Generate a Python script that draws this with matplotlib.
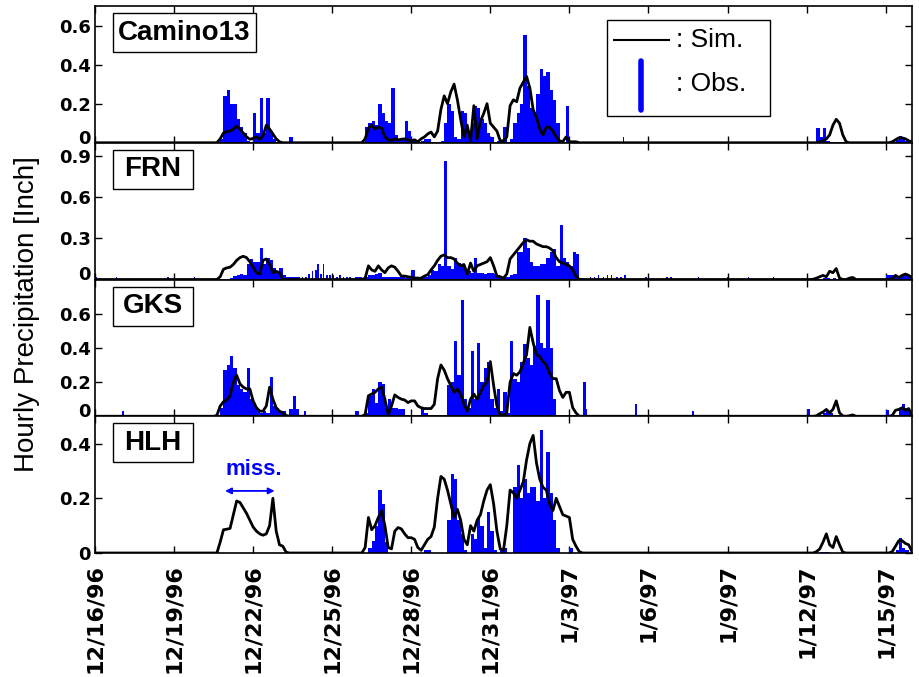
import numpy as np
import matplotlib.pyplot as plt
from matplotlib.patches import Rectangle
from matplotlib.lines import Line2D
from matplotlib.transforms import ScaledTranslation

# stations, top to bottom
stations = ["Camino13", "FRN", "GKS", "HLH"]
y_max = [0.7, 1.0, 0.8, 0.5]
y_ticks = [[0, 0.2, 0.4, 0.6], [0, 0.3, 0.6, 0.9], [0, 0.2, 0.4, 0.6], [0, 0.2, 0.4]]
y_tick_labels = [["0", "0.2", "0.4", "0.6"], ["0", "0.3", "0.6", "0.9"],
                 ["0", "0.2", "0.4", "0.6"], ["0", "0.2", "0.4"]]

# x axis in days since 12/16/96 00:00
date_ticks = [0, 3, 6, 9, 12, 15, 18, 21, 24, 27, 30]
date_labels = ["12/16/96", "12/19/96", "12/22/96", "12/25/96", "12/28/96", "12/31/96",
               "1/3/97", "1/6/97", "1/9/97", "1/12/97", "1/15/97"]

# 3-hourly values (inch), given in four storm windows
step = 0.125
window_start = [4.5, 9.875, 27.0, 29.875]

camino_sim = [
    [0, 0, 0.02, 0.05, 0.057, 0.06, 0.07, 0.085, 0.07, 0.05, 0.03, 0.018, 0.022,
     0.03, 0.018, 0.035, 0.09, 0.07, 0.045, 0.02, 0.005, 0, 0, 0, 0, 0],
    [0, 0, 0, 0.02, 0.075, 0.09, 0.07, 0.08, 0.075, 0.03, 0.015, 0.012, 0.02, 0.015,
     0.018, 0.02, 0.015, 0.01, 0.015, 0.005, 0.02, 0.03, 0.045, 0.055, 0.03, 0.06,
     0.17, 0.24, 0.2, 0.26, 0.3, 0.22, 0.12, 0.03, 0.09, 0.01, 0.19, 0.02, 0.11, 0.15,
     0.2, 0.1, 0.08, 0.06, 0.01, 0.01, 0.03, 0.19, 0.22, 0.21, 0.28, 0.31, 0.34, 0.28,
     0.17, 0.13, 0.07, 0.04, 0.08, 0.08, 0.06, 0.03, 0.01, 0.005, 0.03, 0.005, 0.005,
     0.005, 0, 0],
    [0, 0, 0, 0, 0.005, 0.01, 0.02, 0.04, 0.09, 0.12, 0.1, 0.04, 0.005, 0, 0],
    [0, 0, 0, 0.005, 0.015, 0.025, 0.025, 0.02, 0.01, 0.005],
]
camino_obs = [
    [0, 0, 0.02, 0.24, 0.27, 0.2, 0.2, 0.12, 0.08, 0.05, 0.01, 0, 0.15, 0.05, 0.23,
     0.05, 0.23, 0.06, 0.02, 0, 0, 0, 0, 0.03, 0, 0],
    [0, 0, 0, 0.08, 0.1, 0.11, 0.09, 0.2, 0.15, 0.11, 0.1, 0.28, 0.04, 0.02, 0.02,
     0.11, 0.06, 0.02, 0.01, 0, 0.01, 0.02, 0.02, 0, 0, 0, 0.01, 0.1, 0.2, 0.16,
     0.03, 0.02, 0.16, 0.15, 0.06, 0.1, 0.19, 0.18, 0.12, 0.1, 0.05, 0.03, 0, 0.01,
     0.01, 0.08, 0, 0.02, 0.1, 0.15, 0.2, 0.55, 0.29, 0.18, 0.15, 0.25, 0.38, 0.34,
     0.36, 0.27, 0.22, 0.1, 0, 0, 0.19, 0, 0, 0, 0, 0],
    [0, 0, 0, 0.075, 0.03, 0.075, 0.01, 0, 0, 0, 0, 0, 0, 0, 0],
    [0, 0, 0, 0, 0.015, 0.035, 0.02, 0.01, 0.005, 0],
]
camino_extra_days = [20.06]
camino_extra_obs = [0.03]

frn_sim = [
    [0, 0, 0.02, 0.075, 0.085, 0.09, 0.11, 0.14, 0.16, 0.17, 0.16, 0.13, 0.09, 0.05,
     0.04, 0.14, 0.15, 0.11, 0.05, 0.06, 0.05, 0, 0, 0, 0, 0],
    [0, 0, 0, 0.01, 0.1, 0.07, 0.06, 0.1, 0.07, 0.05, 0.085, 0.1, 0.09, 0.06, 0.025,
     0.025, 0.02, 0.015, 0.012, 0.01, 0.01, 0.025, 0.035, 0.07, 0.1, 0.14, 0.17, 0.18,
     0.16, 0.16, 0.15, 0.12, 0.1, 0.11, 0.04, 0.12, 0.06, 0.1, 0.11, 0.12, 0.13, 0.16,
     0.1, 0.025, 0.02, 0.01, 0.04, 0.15, 0.18, 0.21, 0.24, 0.27, 0.29, 0.28, 0.28,
     0.26, 0.25, 0.24, 0.24, 0.23, 0.21, 0.16, 0.13, 0.12, 0.11, 0.1, 0.07, 0.025, 0, 0],
    [0, 0, 0.002, 0.01, 0.02, 0.03, 0.02, 0.06, 0.05, 0.08, 0.01, 0, 0, 0.01, 0.015],
    [0, 0, 0, 0.005, 0.03, 0.015, 0.03, 0.04, 0.03, 0.01],
]
frn_obs = [
    [0, 0, 0, 0, 0, 0.01, 0.025, 0.03, 0.04, 0.03, 0.11, 0.15, 0.13, 0.13, 0.23, 0.11,
     0.16, 0.14, 0.085, 0.05, 0.085, 0.03, 0.02, 0.02, 0.02, 0.02],
    [0.02, 0.02, 0.01, 0.02, 0.035, 0.03, 0.04, 0.05, 0.02, 0.02, 0.015, 0.02, 0.02,
     0.015, 0.015, 0.01, 0.01, 0.07, 0.01, 0.01, 0.01, 0.015, 0.03, 0.07, 0.06, 0.11,
     0.1, 0.87, 0.1, 0.08, 0.16, 0.12, 0.1, 0.08, 0.06, 0.05, 0.16, 0.05, 0.05, 0.04,
     0.05, 0.05, 0.04, 0.03, 0.02, 0.02, 0.02, 0.03, 0.04, 0.2, 0.2, 0.3, 0.23, 0.13,
     0.1, 0.1, 0.11, 0.11, 0.16, 0.2, 0.22, 0.1, 0.4, 0.16, 0.13, 0.1, 0.2, 0.19,
     0.01, 0],
    [0, 0, 0, 0, 0, 0.01, 0.01, 0, 0.01, 0.005, 0, 0, 0, 0, 0],
    [0, 0.03, 0.03, 0.03, 0.02, 0.02, 0.04, 0.04, 0.03, 0],
]
frn_extra_days = [0.06, 0.82, 2.78, 3.77, 7.75, 7.875, 8.0, 8.125, 8.25, 8.375, 8.46,
                  8.57, 8.67, 8.8, 8.92, 9.05, 9.18, 9.3, 9.43, 9.56, 9.68, 18.8, 18.95,
                  19.1, 19.3, 19.45, 19.6, 19.8, 19.95, 20.1, 20.9, 21.7, 21.85, 22.9,
                  24.0, 24.8, 25.75]
frn_extra_obs = [0.02, 0.02, 0.02, 0.02, 0.02, 0.02, 0.02, 0.04, 0.06, 0.07, 0.11,
                 0.04, 0.11, 0.03, 0.03, 0.03, 0.02, 0.03, 0.02, 0.02, 0.02, 0.02, 0.02,
                 0.03, 0.02, 0.03, 0.03, 0.02, 0.02, 0.03, 0.02, 0.02, 0.02, 0.02, 0.02,
                 0.02, 0.02]

gks_sim = [
    [0, 0.005, 0.06, 0.085, 0.095, 0.12, 0.2, 0.24, 0.19, 0.17, 0.16, 0.16, 0.09, 0.05,
     0.03, 0.03, 0.06, 0.17, 0.1, 0.05, 0.03, 0.02, 0.005, 0, 0, 0],
    [0, 0, 0, 0.01, 0.12, 0.13, 0.14, 0.16, 0.17, 0.1, 0.01, 0.06, 0.125, 0.11, 0.1,
     0.095, 0.08, 0.09, 0.09, 0.06, 0.05, 0.045, 0.045, 0.045, 0.07, 0.22, 0.3, 0.27,
     0.22, 0.18, 0.14, 0.16, 0.13, 0.07, 0.03, 0.1, 0.13, 0.1, 0.14, 0.18, 0.2, 0.32,
     0.18, 0.06, 0.005, 0.005, 0.02, 0.2, 0.25, 0.24, 0.26, 0.31, 0.36, 0.52, 0.43,
     0.36, 0.35, 0.32, 0.3, 0.25, 0.22, 0.22, 0.15, 0.11, 0.14, 0.14, 0.05, 0.02, 0, 0],
    [0, 0, 0, 0.003, 0.015, 0.025, 0.04, 0.02, 0.04, 0.09, 0.02, 0.002, 0, 0.003, 0.008],
    [0, 0, 0, 0.005, 0.035, 0.04, 0.05, 0.035, 0.045, 0.005],
]
gks_obs = [
    [0, 0, 0.05, 0.27, 0.3, 0.35, 0.28, 0.18, 0.16, 0.14, 0.28, 0.1, 0.08, 0.04, 0.02,
     0.03, 0.02, 0.23, 0.06, 0.05, 0.03, 0.03, 0.01, 0.04, 0.12, 0.04],
    [0.03, 0, 0, 0.02, 0.12, 0.16, 0.08, 0.2, 0.19, 0.05, 0.1, 0.05, 0.05, 0.04, 0.04,
     0.01, 0, 0, 0, 0, 0.04, 0.02, 0, 0, 0, 0, 0, 0.01, 0.18, 0.2, 0.44, 0.24, 0.68,
     0.1, 0.05, 0.38, 0.1, 0.43, 0.2, 0.28, 0.32, 0.1, 0.05, 0.16, 0.03, 0.14, 0.02,
     0.44, 0.22, 0.2, 0.32, 0.42, 0.34, 0.3, 0.41, 0.71, 0.43, 0.4, 0.68, 0.4, 0.1, 0,
     0, 0, 0, 0, 0, 0, 0, 0.2],
    [0.04, 0, 0, 0, 0, 0.02, 0.03, 0.02, 0, 0, 0, 0, 0, 0, 0],
    [0, 0.035, 0, 0, 0.01, 0.04, 0.07, 0.05, 0.03, 0],
]
gks_extra_days = [1.07, 7.97, 18.65, 20.53, 22.7]
gks_extra_obs = [0.03, 0.03, 0.04, 0.07, 0.03]

hlh_sim = [
    [0, 0, 0.04, 0.085, 0.087, 0.09, 0.14, 0.19, 0.185, 0.165, 0.145, 0.12, 0.095,
     0.08, 0.07, 0.065, 0.07, 0.1, 0.2, 0.08, 0.03, 0.025, 0.003, 0, 0, 0],
    [0, 0, 0, 0.02, 0.13, 0.085, 0.1, 0.13, 0.155, 0.1, 0.02, 0.015, 0.08, 0.093,
     0.088, 0.07, 0.056, 0.056, 0.05, 0.02, 0.01, 0.03, 0.05, 0.06, 0.095, 0.2, 0.28,
     0.27, 0.23, 0.18, 0.13, 0.16, 0.12, 0.05, 0.03, 0.1, 0.08, 0.12, 0.14, 0.19, 0.23,
     0.25, 0.18, 0.08, 0.015, 0.01, 0.1, 0.23, 0.22, 0.2, 0.23, 0.26, 0.34, 0.4, 0.43,
     0.33, 0.27, 0.24, 0.23, 0.18, 0.155, 0.2, 0.17, 0.14, 0.135, 0.13, 0.05, 0.025,
     0.005, 0],
    [0, 0, 0, 0.005, 0.015, 0.04, 0.07, 0.03, 0.02, 0.06, 0.03, 0.003, 0, 0, 0],
    [0, 0, 0, 0.005, 0.025, 0.045, 0.045, 0.035, 0.03, 0.005],
]
hlh_obs = [
    [],  # gauge record missing
    [0, 0, 0, 0, 0.02, 0.045, 0.1, 0.23, 0.18, 0.04, 0, 0, 0, 0, 0, 0, 0, 0, 0, 0, 0,
     0.01, 0.01, 0, 0, 0, 0, 0, 0.12, 0.29, 0.27, 0.12, 0.07, 0.01, 0, 0.07, 0.05,
     0.13, 0.1, 0.02, 0.15, 0.08, 0.01, 0, 0.01, 0.02, 0, 0, 0.24, 0.32, 0.2, 0.27,
     0.22, 0.24, 0.24, 0.19, 0.45, 0.2, 0.37, 0.22, 0.12, 0.02, 0, 0, 0, 0.02, 0, 0,
     0, 0],
    [0, 0, 0, 0, 0.005, 0.005, 0.005, 0, 0, 0, 0, 0, 0, 0, 0],
    [0, 0, 0, 0, 0.01, 0.055, 0.02, 0.01, 0, 0],
]
hlh_extra_days = []
hlh_extra_obs = []

sims = [camino_sim, frn_sim, gks_sim, hlh_sim]
obss = [camino_obs, frn_obs, gks_obs, hlh_obs]
extra_days = [camino_extra_days, frn_extra_days, gks_extra_days, hlh_extra_days]
extra_obs = [camino_extra_obs, frn_extra_obs, gks_extra_obs, hlh_extra_obs]

n = int(round(31 / step)) + 1
t = np.arange(n) * step


def to_series(windows):
    full = np.zeros(n)
    for start, vals in zip(window_start, windows):
        i = int(round(start / step))
        full[i:i + len(vals)] = vals
    return full


BLUE = "#0000ff"
tick_font = dict(family="DejaVu Sans", weight="bold")

fig = plt.figure(figsize=(9.2, 6.77), dpi=100)
left, width = 95 / 920, 817 / 920
top_px, bot_px = 6, 553
h_px = (bot_px - top_px) / 4

axes = []
for k, name in enumerate(stations):
    bottom = 1 - (top_px + (k + 1) * h_px) / 677
    ax = fig.add_axes([left, bottom, width, h_px / 677])
    axes.append(ax)

    sim = to_series(sims[k])
    obs = to_series(obss[k])
    has = obs > 0
    ax.bar(t[has], obs[has], width=step, align="edge", color=BLUE, linewidth=0, zorder=2)
    if extra_days[k]:
        ax.bar(extra_days[k], extra_obs[k], width=0.06, color=BLUE, linewidth=0, zorder=2)
    ax.plot(t, sim, color="black", lw=2, zorder=3)

    ax.set_xlim(0, 31)
    ax.set_ylim(0, y_max[k])
    ax.set_yticks(y_ticks[k])
    ax.set_yticklabels(y_tick_labels[k], fontsize=13, **tick_font)
    ax.set_xticks(date_ticks)
    ax.tick_params(direction="in", top=True, right=True, length=5, width=1, pad=3)
    ax.tick_params(axis="x", pad=8)
    if k == 3:
        ax.set_xticklabels(date_labels, rotation=90, fontsize=16, **tick_font)
    else:
        ax.set_xticklabels([])
        # lift the "0" a little so it sits clear of the panel below
        zero = ax.get_yticklabels()[0]
        zero.set_transform(zero.get_transform()
                           + ScaledTranslation(0, 4.5 / 72, fig.dpi_scale_trans))
    for s in ax.spines.values():
        s.set_linewidth(1.2)

    # station name box
    box_w = 143 if k == 0 else 80
    ax.add_patch(Rectangle((18 / 817, 1 - 46 / h_px), box_w / 817, 39 / h_px,
                           transform=ax.transAxes, fc="white", ec="black", lw=1,
                           zorder=5))
    ax.text((18 + box_w / 2) / 817, 1 - 26.5 / h_px, name, transform=ax.transAxes,
            ha="center", va="center", fontsize=20, fontweight="bold",
            family="Liberation Sans", zorder=6)

# legend box in the top panel
ax0 = axes[0]
ax0.add_patch(Rectangle((0.6267, 0.1985), 0.1995, 0.6985, transform=ax0.transAxes,
                        fc="white", ec="black", lw=1, zorder=6))
ax0.add_line(Line2D([0.635, 0.7026], [0.75, 0.75], transform=ax0.transAxes,
                    color="black", lw=1.5, zorder=7))
ax0.add_line(Line2D([0.6677, 0.6677], [0.24, 0.60], transform=ax0.transAxes,
                    color=BLUE, lw=4, solid_capstyle="round", zorder=7))
ax0.text(0.711, 0.75, ": Sim.", transform=ax0.transAxes, va="center", ha="left",
         fontsize=19, family="Liberation Sans", zorder=7)
ax0.text(0.711, 0.426, ": Obs.", transform=ax0.transAxes, va="center", ha="left",
         fontsize=19, family="Liberation Sans", zorder=7)

# missing-record note at HLH
ax3 = axes[3]
ax3.annotate("", xy=(4.83, 0.227), xytext=(6.92, 0.227),
             arrowprops=dict(arrowstyle="<|-|>", color=BLUE, lw=1.3, mutation_scale=9))
ax3.text(6.04, 0.305, "miss.", color=BLUE, ha="center", va="center", fontsize=16,
         fontweight="bold", family="Liberation Sans")

fig.text(27 / 920, 1 - 314 / 677, "Hourly Precipitation [Inch]", rotation=90,
         ha="center", va="center", fontsize=20, family="Liberation Sans")

fig.savefig("out.png", dpi=100)
